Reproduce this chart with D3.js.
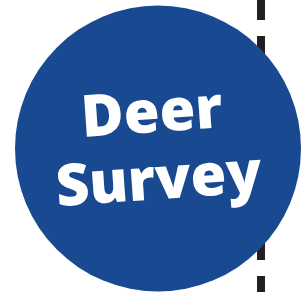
<!DOCTYPE html>
<html>
<head>
<meta charset="utf-8">
<script src="https://cdn.jsdelivr.net/npm/d3@7"></script>
<style>
  html, body { margin: 0; padding: 0; background: #fff; }
  svg { display: block; }
</style>
</head>
<body>
<svg id="chart"></svg>
<script>
// the badge text, one entry per line
const titleLines = ["Deer", "Survey"];

const width = 301;
const height = 292;

const svg = d3.select("#chart")
  .attr("width", width)
  .attr("height", height);

svg.append("rect")
  .attr("width", width)
  .attr("height", height)
  .attr("fill", "#fff");

// dashed cut line behind the badge
svg.append("line")
  .attr("x1", 261)
  .attr("x2", 261)
  .attr("y1", -4)
  .attr("y2", height)
  .attr("stroke", "#231f20")
  .attr("stroke-width", 8)
  .attr("stroke-dasharray", "24 16");

svg.append("circle")
  .attr("cx", 158)
  .attr("cy", 148.5)
  .attr("r", 143)
  .attr("fill", "#194a91");

const lineY = d3.scalePoint()
  .domain(titleLines)
  .range([132, 199]);

const lineX = { "Deer": 153, "Survey": 160 };

const label = svg.append("g")
  .attr("font-family", "'Open Sans', sans-serif")
  .attr("font-weight", 800)
  .attr("font-size", 58)
  .attr("fill", "#fff")
  .attr("text-anchor", "middle");

label.selectAll("text")
  .data(titleLines)
  .join("text")
    .attr("transform", d => `translate(${lineX[d]}, ${lineY(d)}) rotate(-4)`)
    .text(d => d);
</script>
</body>
</html>
